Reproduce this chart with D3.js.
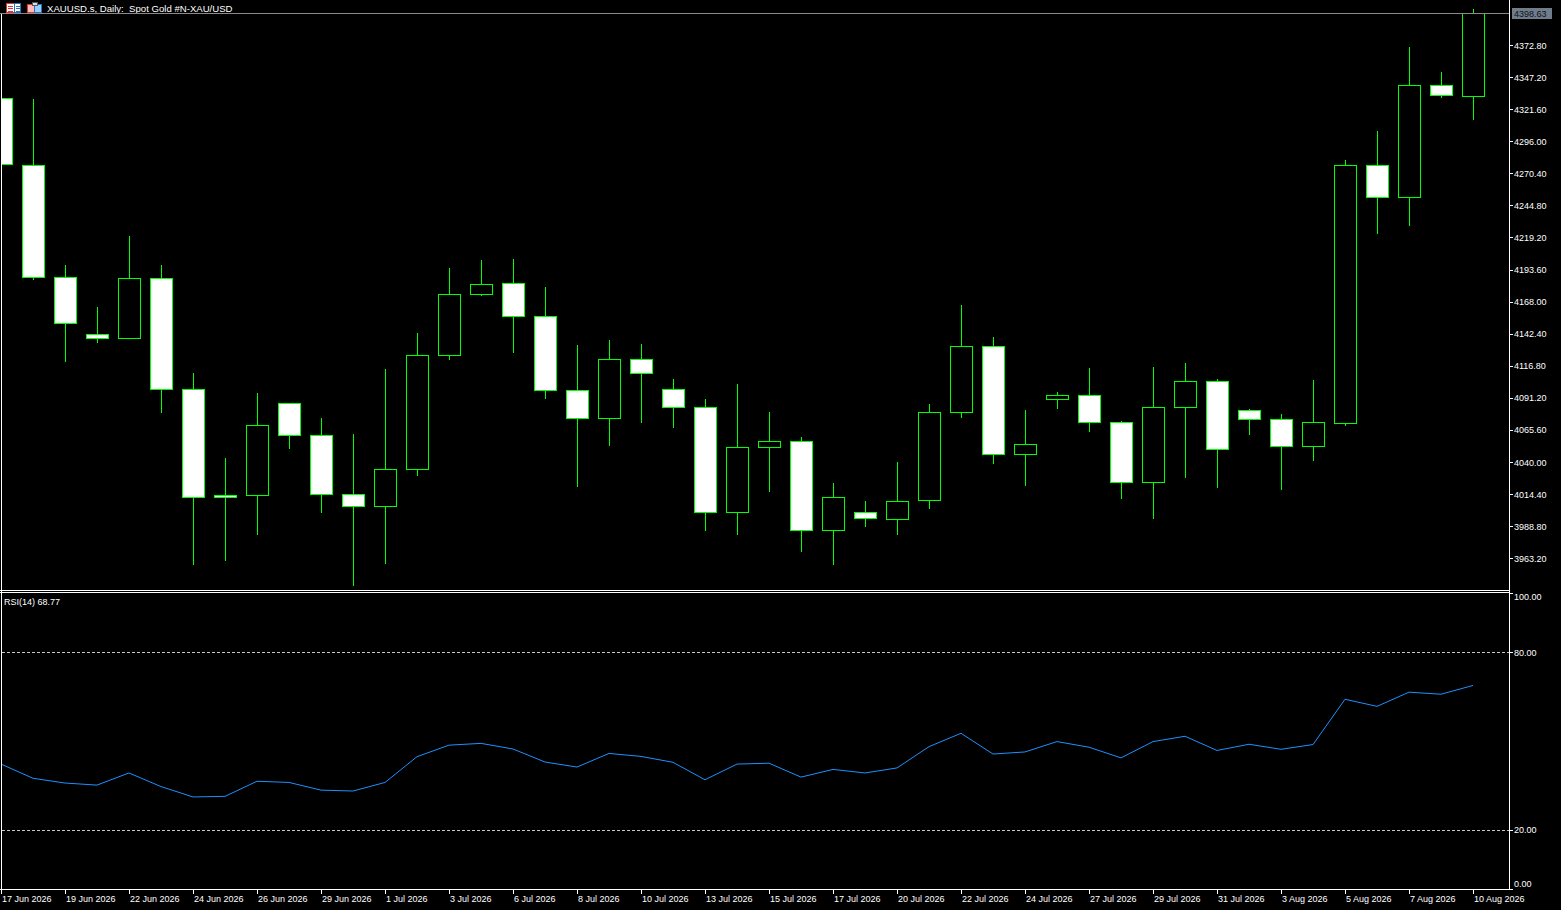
<!DOCTYPE html>
<html>
<head>
  <meta charset="utf-8">
  <script src="https://d3js.org/d3.v7.min.js"></script>
  <style>
    body { margin: 0; background: #000; overflow: hidden; }
    svg { display: block; }
    text { font-family: "Liberation Sans", Arial, sans-serif; font-size: 9px; fill: #fff; }
  </style>
  <script type="text/javascript">
    /*
      Daily OHLC for the visible bars (one label every second bar) and RSI(14)
    */
    var dateLabels = ["17 Jun 2026", "19 Jun 2026", "22 Jun 2026", "24 Jun 2026", "26 Jun 2026",
      "29 Jun 2026", "1 Jul 2026", "3 Jul 2026", "6 Jul 2026", "8 Jul 2026", "10 Jul 2026",
      "13 Jul 2026", "15 Jul 2026", "17 Jul 2026", "20 Jul 2026", "22 Jul 2026", "24 Jul 2026",
      "27 Jul 2026", "29 Jul 2026", "31 Jul 2026", "3 Aug 2026", "5 Aug 2026", "7 Aug 2026",
      "10 Aug 2026"];

    var opens = [4330.2, 4277.4, 4187.8, 4142.2, 4139.0, 4187.0, 4098.2, 4013.4, 4013.4, 4087.0,
      4061.4, 4014.2, 4004.6, 4034.2, 4125.4, 4174.2, 4183.0, 4156.6, 4097.4, 4075.0,
      4122.2, 4098.2, 4083.8, 3999.8, 4051.8, 4056.6, 3985.4, 3999.8, 3994.2, 4009.4,
      4079.8, 4132.6, 4046.2, 4090.2, 4093.4, 4071.8, 4023.8, 4083.8, 4104.6, 4081.4,
      4074.2, 4052.6, 4071.8, 4277.4, 4251.2, 4340.6, 4332.6];
    var highs = [4332.8, 4329.6, 4197.6, 4164.0, 4220.0, 4197.6, 4111.2, 4043.2, 4095.2, 4087.5,
      4075.2, 4062.4, 4114.4, 4143.2, 4195.2, 4201.6, 4202.4, 4180.0, 4133.6, 4137.6,
      4134.4, 4106.4, 4090.4, 4102.4, 4080.0, 4060.0, 4023.2, 4008.8, 4040.0, 4086.4,
      4165.6, 4140.0, 4081.6, 4096.0, 4115.2, 4072.8, 4116.0, 4119.2, 4106.4, 4082.4,
      4078.4, 4105.6, 4281.4, 4304.0, 4371.2, 4351.2, 4401.6];
    var lows = [4276.0, 4185.6, 4120.2, 4135.4, 4138.6, 4079.4, 3957.8, 3961.0, 3981.8, 4050.6,
      3999.4, 3941.0, 3958.6, 4029.0, 4121.8, 4172.2, 4127.4, 4090.6, 4020.2, 4053.0,
      4071.4, 4067.4, 3985.0, 3981.8, 4016.2, 3968.2, 3957.8, 3988.2, 3981.8, 4002.6,
      4075.4, 4038.6, 4021.0, 4082.6, 4064.2, 4010.6, 3994.6, 4027.4, 4019.4, 4061.8,
      4017.8, 4041.0, 4069.0, 4221.8, 4228.2, 4330.6, 4312.6];
    var closes = [4277.4, 4187.8, 4151.0, 4139.0, 4187.0, 4098.2, 4011.8, 4011.8, 4069.4, 4061.4,
      4014.2, 4004.6, 4034.2, 4125.4, 4174.2, 4182.2, 4156.6, 4097.4, 4075.0, 4122.2,
      4111.0, 4083.8, 3999.8, 4051.8, 4056.6, 3985.4, 4011.8, 3995.0, 4008.6, 4079.8,
      4132.6, 4046.2, 4054.2, 4093.4, 4071.8, 4023.8, 4083.8, 4104.6, 4050.2, 4074.2,
      4052.6, 4071.8, 4277.4, 4251.8, 4340.6, 4332.6, 4398.63];

    var rsiValues = [42.2, 37.4, 35.8, 35.1, 39.2, 34.6, 31.1, 31.3, 36.4, 36.0,
      33.4, 33.1, 36.0, 44.7, 48.6, 49.2, 47.3, 42.9, 41.2, 45.8,
      44.8, 42.8, 36.9, 42.2, 42.5, 37.8, 40.4, 39.2, 40.9, 48.1,
      52.6, 45.6, 46.3, 49.8, 47.9, 44.3, 49.8, 51.6, 46.8, 48.9,
      47.2, 48.8, 64.1, 61.7, 66.5, 65.8, 68.77];

    var priceTicks = [3963.20, 3988.80, 4014.40, 4040.00, 4065.60, 4091.20, 4116.80, 4142.40,
      4168.00, 4193.60, 4219.20, 4244.80, 4270.40, 4296.00, 4321.60, 4347.20, 4372.80];
    var rsiLevels = [20, 80];
    var rsiTicks = [0, 20, 80, 100];
    var lastPrice = 4398.63;

    function draw() {
      "use strict";
      var width = 1561,
          height = 910,
          axisX = 1509,
          mainBottom = 590,
          rsiTop = 593,
          rsiBottom = 889;

      var svg = d3.select("body")
        .append("svg")
          .attr("width", width)
          .attr("height", height)
          .style("background", "#000");

      var x = d3.scaleLinear().domain([0, opens.length - 1]).range([1, 1473]);
      var y = d3.scaleLinear().domain([3963.2, 4372.8]).range([558.3, 45]);
      var yRsi = d3.scaleLinear().domain([0, 100]).range([rsiBottom, rsiTop]);
      var fmt = d3.format(".2f");

      var defs = svg.append("defs");
      defs.append("clipPath").attr("id", "clipMain")
        .append("rect").attr("x", 2).attr("y", 0).attr("width", axisX - 2).attr("height", mainBottom);
      defs.append("clipPath").attr("id", "clipRsi")
        .append("rect").attr("x", 2).attr("y", rsiTop).attr("width", axisX - 2).attr("height", rsiBottom - rsiTop);

      /*
        Title with the two little window icons
      */
      var icons = svg.append("g").attr("shape-rendering", "crispEdges");
      icons.append("rect").attr("x", 6.5).attr("y", 3.5).attr("width", 14).attr("height", 9)
        .attr("fill", "#fff").attr("stroke", "#d33");
      icons.append("rect").attr("x", 14.5).attr("y", 3.5).attr("width", 6).attr("height", 9)
        .attr("fill", "#fff").attr("stroke", "#2a6fc0");
      [6, 8.5, 11].forEach(function (yy) {
        icons.append("line").attr("x1", 8).attr("x2", 13).attr("y1", yy).attr("y2", yy).attr("stroke", "#d33");
        icons.append("line").attr("x1", 16).attr("x2", 20).attr("y1", yy).attr("y2", yy).attr("stroke", "#2a6fc0");
      });
      icons.append("rect").attr("x", 27.5).attr("y", 4.5).attr("width", 7).attr("height", 8)
        .attr("fill", "#fbb").attr("stroke", "#d33");
      icons.append("rect").attr("x", 34.5).attr("y", 4.5).attr("width", 7).attr("height", 8)
        .attr("fill", "#9cf").attr("stroke", "#2a6fc0");
      icons.append("rect").attr("x", 32.5).attr("y", 2.5).attr("width", 5).attr("height", 3)
        .attr("fill", "#ddd").attr("stroke", "#555");

      svg.append("text")
        .attr("x", 47).attr("y", 11.5)
        .attr("xml:space", "preserve")
        .style("white-space", "pre")
        .style("font-size", "9.6px")
        .text("XAUUSD.s, Daily:  Spot Gold #N-XAU/USD");

      /*
        Frame lines
      */
      var frame = svg.append("g").attr("stroke", "#fff").attr("shape-rendering", "crispEdges");
      frame.append("line").attr("x1", 1.5).attr("x2", 1.5).attr("y1", 13).attr("y2", rsiBottom);
      frame.append("line").attr("x1", axisX + 0.5).attr("x2", axisX + 0.5).attr("y1", 0).attr("y2", rsiBottom + 1);
      frame.append("line").attr("x1", 0).attr("x2", axisX).attr("y1", mainBottom + 0.5).attr("y2", mainBottom + 0.5);
      frame.append("line").attr("x1", 0).attr("x2", axisX).attr("y1", mainBottom + 2.5).attr("y2", mainBottom + 2.5);
      frame.append("line").attr("x1", 0).attr("x2", axisX).attr("y1", rsiBottom + 0.5).attr("y2", rsiBottom + 0.5);

      /*
        Candles
      */
      var main = svg.append("g").attr("clip-path", "url(#clipMain)").attr("shape-rendering", "crispEdges");
      var idx = d3.range(opens.length);

      main.selectAll("line.wick")
        .data(idx)
        .enter()
        .append("line")
          .attr("class", "wick")
          .attr("x1", function (i) { return Math.round(x(i)) + 0.5; })
          .attr("x2", function (i) { return Math.round(x(i)) + 0.5; })
          .attr("y1", function (i) { return y(highs[i]); })
          .attr("y2", function (i) { return y(lows[i]); })
          .attr("stroke", "#00ff00");

      main.selectAll("rect.body")
        .data(idx)
        .enter()
        .append("rect")
          .attr("class", "body")
          .attr("x", function (i) { return Math.round(x(i)) - 10.5; })
          .attr("width", 22)
          .attr("y", function (i) { return Math.round(y(Math.max(opens[i], closes[i]))) + 0.5; })
          .attr("height", function (i) {
            return Math.max(1, Math.round(Math.abs(y(opens[i]) - y(closes[i]))));
          })
          .attr("fill", function (i) { return closes[i] >= opens[i] ? "#000" : "#fff"; })
          .attr("stroke", "#00ff00");

      // current bid line
      svg.append("line")
        .attr("x1", 0).attr("x2", axisX)
        .attr("y1", Math.round(y(lastPrice)) + 0.5).attr("y2", Math.round(y(lastPrice)) + 0.5)
        .attr("stroke", "#8a8a8a")
        .attr("shape-rendering", "crispEdges");

      /*
        Price axis
      */
      var pAxis = svg.append("g");
      pAxis.selectAll("line")
        .data(priceTicks)
        .enter()
        .append("line")
          .attr("x1", axisX).attr("x2", axisX + 4)
          .attr("y1", function (d) { return Math.round(y(d)) + 0.5; })
          .attr("y2", function (d) { return Math.round(y(d)) + 0.5; })
          .attr("stroke", "#fff")
          .attr("shape-rendering", "crispEdges");
      pAxis.selectAll("text")
        .data(priceTicks)
        .enter()
        .append("text")
          .attr("x", axisX + 5)
          .attr("y", function (d) { return y(d) + 3.5; })
          .text(function (d) { return fmt(d); });

      var ly = Math.round(y(lastPrice));
      svg.append("rect")
        .attr("x", axisX + 3).attr("y", ly - 5).attr("width", 40).attr("height", 11)
        .attr("fill", "#6f7c8c");
      svg.append("text")
        .attr("x", axisX + 5).attr("y", ly + 3.5)
        .style("fill", "#111")
        .text(fmt(lastPrice));

      /*
        RSI panel
      */
      var rsi = svg.append("g");
      rsi.selectAll("line.level")
        .data(rsiLevels)
        .enter()
        .append("line")
          .attr("class", "level")
          .attr("x1", 2).attr("x2", axisX)
          .attr("y1", function (d) { return Math.round(yRsi(d)) + 0.5; })
          .attr("y2", function (d) { return Math.round(yRsi(d)) + 0.5; })
          .attr("stroke", "#c8c8c8")
          .attr("stroke-dasharray", "3,2")
          .attr("shape-rendering", "crispEdges");

      var rsiLine = d3.line()
        .x(function (d, i) { return x(i); })
        .y(function (d) { return yRsi(d); });
      rsi.append("path")
        .datum(rsiValues)
        .attr("clip-path", "url(#clipRsi)")
        .attr("d", rsiLine)
        .attr("fill", "none")
        .attr("stroke", "#1e90ff")
        .attr("stroke-width", 1);

      rsi.append("text")
        .attr("x", 4).attr("y", 605)
        .text("RSI(14) " + fmt(rsiValues[rsiValues.length - 1]));

      rsi.selectAll("line.tick")
        .data(rsiTicks)
        .enter()
        .append("line")
          .attr("class", "tick")
          .attr("x1", axisX).attr("x2", axisX + 4)
          .attr("y1", function (d) { return Math.round(yRsi(d)) + 0.5; })
          .attr("y2", function (d) { return Math.round(yRsi(d)) + 0.5; })
          .attr("stroke", "#fff")
          .attr("shape-rendering", "crispEdges");
      rsi.selectAll("text.tick")
        .data(rsiTicks)
        .enter()
        .append("text")
          .attr("class", "tick")
          .attr("x", axisX + 5)
          .attr("y", function (d) {
            var off = d === 100 ? 7 : (d === 0 ? -2.5 : 3.5);
            return yRsi(d) + off;
          })
          .text(function (d) { return fmt(d); });

      /*
        Date axis, a label on every second bar
      */
      var tAxis = svg.append("g");
      tAxis.selectAll("line")
        .data(dateLabels)
        .enter()
        .append("line")
          .attr("x1", function (d, k) { return Math.round(x(k * 2)) + 0.5; })
          .attr("x2", function (d, k) { return Math.round(x(k * 2)) + 0.5; })
          .attr("y1", rsiBottom).attr("y2", rsiBottom + 5)
          .attr("stroke", "#fff")
          .attr("shape-rendering", "crispEdges");
      tAxis.selectAll("text")
        .data(dateLabels)
        .enter()
        .append("text")
          .attr("x", function (d, k) { return x(k * 2) + 1; })
          .attr("y", 902)
          .text(function (d) { return d; });
    }
  </script>
</head>
<body>
  <script type="text/javascript">
    draw();
  </script>
</body>
</html>
